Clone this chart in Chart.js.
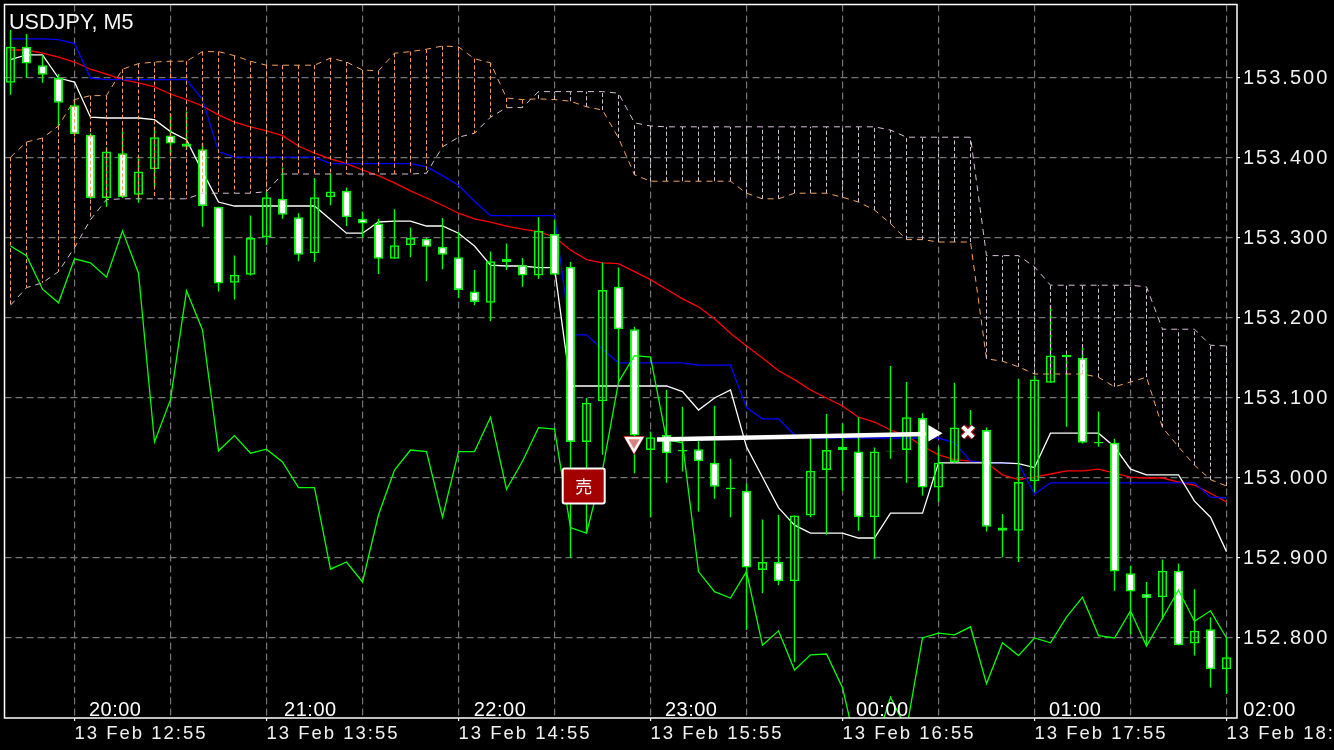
<!DOCTYPE html>
<html>
<head>
<meta charset="utf-8">
<title>USDJPY, M5</title>
<script src="https://cdn.jsdelivr.net/npm/chart.js@4/dist/chart.umd.min.js"></script>
<style>
    html, body { margin: 0; background: #000; overflow: hidden; }
    canvas { display: block; }
</style>
</head>
<body>
<canvas id="chart" width="1334" height="750"></canvas>
<script>
const opens = [
    153.494, 153.539, 153.516, 153.500, 153.466, 153.429, 153.350, 153.406, 153.354, 153.386,
    153.428, 153.418, 153.411, 153.339, 153.244, 153.254, 153.301, 153.349, 153.326, 153.281,
    153.351, 153.359, 153.324, 153.318, 153.274, 153.291, 153.299, 153.289, 153.276, 153.233,
    153.219, 153.274, 153.266, 153.253, 153.305, 153.264, 153.045, 153.096, 153.239, 153.186,
    153.035, 153.054, 153.035, 153.036, 153.019, 152.986, 152.984, 152.885, 152.895, 152.871,
    152.953, 153.010, 153.039, 153.033, 152.951, 153.033, 153.035, 153.075, 152.988, 153.020,
    153.061, 153.060, 152.938, 152.934, 152.996, 153.119, 153.154, 153.150, 153.045, 153.044,
    152.881, 152.855, 152.851, 152.884, 152.793, 152.811, 152.761
];
const highs = [
    153.560, 153.555, 153.529, 153.505, 153.473, 153.431, 153.413, 153.433, 153.399, 153.439,
    153.456, 153.458, 153.418, 153.339, 153.278, 153.328, 153.358, 153.388, 153.331, 153.375,
    153.381, 153.363, 153.333, 153.324, 153.336, 153.313, 153.300, 153.325, 153.308, 153.260,
    153.283, 153.293, 153.275, 153.326, 153.323, 153.270, 153.100, 153.269, 153.263, 153.189,
    153.058, 153.110, 153.089, 153.050, 153.090, 153.024, 152.993, 152.948, 152.954, 152.953,
    153.055, 153.080, 153.068, 153.076, 153.038, 153.140, 153.120, 153.081, 153.039, 153.119,
    153.085, 153.063, 152.955, 153.124, 153.128, 153.216, 153.154, 153.163, 153.083, 153.049,
    152.890, 152.870, 152.898, 152.893, 152.861, 152.826, 152.800
];
const lows = [
    153.479, 153.500, 153.494, 153.440, 153.428, 153.349, 153.339, 153.350, 153.344, 153.364,
    153.404, 153.410, 153.314, 153.233, 153.223, 153.253, 153.291, 153.324, 153.271, 153.270,
    153.341, 153.315, 153.300, 153.255, 153.274, 153.276, 153.246, 153.261, 153.225, 153.216,
    153.196, 153.260, 153.239, 153.249, 153.254, 152.900, 152.931, 153.029, 153.120, 153.006,
    152.951, 152.994, 153.008, 152.958, 152.974, 152.951, 152.810, 152.856, 152.866, 152.770,
    152.951, 152.929, 152.984, 152.934, 152.899, 153.024, 152.994, 152.978, 152.970, 153.019,
    153.058, 152.933, 152.901, 152.895, 152.983, 153.119, 153.064, 153.043, 153.039, 152.859,
    152.805, 152.789, 152.823, 152.791, 152.778, 152.738, 152.730
];
const closes = [
    153.539, 153.518, 153.504, 153.469, 153.430, 153.350, 153.408, 153.351, 153.383, 153.426,
    153.418, 153.414, 153.340, 153.243, 153.254, 153.300, 153.351, 153.329, 153.279, 153.351,
    153.358, 153.326, 153.318, 153.274, 153.291, 153.300, 153.289, 153.279, 153.235, 153.220,
    153.271, 153.270, 153.253, 153.309, 153.254, 153.045, 153.094, 153.235, 153.186, 153.053,
    153.051, 153.031, 153.033, 153.021, 152.989, 152.988, 152.888, 152.895, 152.871, 152.953,
    153.009, 153.035, 153.035, 152.951, 153.033, 153.034, 153.076, 152.988, 153.019, 153.063,
    153.064, 152.939, 152.934, 152.995, 153.123, 153.153, 153.151, 153.044, 153.043, 152.883,
    152.858, 152.850, 152.884, 152.791, 152.809, 152.761, 152.776
];

const tenkan = [
    153.523, 153.529, 153.529, 153.500, 153.495, 153.451, 153.450, 153.450, 153.450, 153.448,
    153.433, 153.423, 153.383, 153.345, 153.340, 153.340, 153.340, 153.340, 153.340, 153.340,
    153.323, 153.306, 153.306, 153.320, 153.321, 153.321, 153.315, 153.315, 153.306, 153.290,
    153.266, 153.265, 153.265, 153.263, 153.263, 153.115, 153.115, 153.115, 153.115, 153.115,
    153.115, 153.115, 153.108, 153.085, 153.100, 153.110, 153.039, 153.001, 152.963, 152.941,
    152.931, 152.931, 152.931, 152.925, 152.925, 152.956, 152.956, 152.956, 153.019, 153.019,
    153.019, 153.019, 153.019, 153.018, 153.013, 153.056, 153.056, 153.056, 153.056, 153.039,
    153.011, 153.004, 153.004, 153.004, 152.971, 152.951, 152.908
];
const kijun = [
    153.549, 153.549, 153.549, 153.548, 153.543, 153.500, 153.498, 153.498, 153.498, 153.498,
    153.498, 153.498, 153.473, 153.408, 153.401, 153.401, 153.401, 153.401, 153.401, 153.401,
    153.393, 153.393, 153.393, 153.393, 153.393, 153.393, 153.389, 153.378, 153.366, 153.346,
    153.328, 153.328, 153.328, 153.328, 153.328, 153.179, 153.179, 153.161, 153.144, 153.144,
    153.144, 153.144, 153.144, 153.141, 153.141, 153.141, 153.088, 153.074, 153.074, 153.054,
    153.050, 153.050, 153.050, 153.050, 153.050, 153.050, 153.050, 153.050, 153.050, 153.044,
    153.021, 153.019, 153.019, 153.018, 152.980, 152.994, 152.994, 152.994, 152.994, 152.994,
    152.994, 152.994, 152.994, 152.994, 152.994, 152.976, 152.975
];
const movingAverage = [
    153.535, 153.535, 153.531, 153.526, 153.520, 153.511, 153.505, 153.498, 153.494, 153.489,
    153.480, 153.473, 153.465, 153.454, 153.445, 153.439, 153.434, 153.428, 153.415, 153.406,
    153.399, 153.393, 153.385, 153.378, 153.369, 153.359, 153.350, 153.341, 153.331, 153.324,
    153.320, 153.315, 153.311, 153.308, 153.301, 153.285, 153.273, 153.269, 153.268, 153.258,
    153.248, 153.236, 153.224, 153.214, 153.199, 153.181, 153.165, 153.150, 153.134, 153.123,
    153.110, 153.100, 153.090, 153.076, 153.070, 153.060, 153.053, 153.040, 153.029, 153.023,
    153.021, 153.019, 153.004, 152.998, 153.001, 153.005, 153.009, 153.009, 153.011, 153.006,
    153.001, 153.000, 153.000, 152.995, 152.991, 152.981, 152.970
];
const chikou = [
    153.290, 153.278, 153.236, 153.219, 153.274, 153.269, 153.251, 153.309, 153.256, 153.045,
    153.098, 153.234, 153.185, 153.034, 153.053, 153.031, 153.036, 153.020, 152.988, 152.988,
    152.886, 152.895, 152.870, 152.954, 153.010, 153.035, 153.033, 152.951, 153.033, 153.033,
    153.076, 152.986, 153.021, 153.063, 153.061, 152.938, 152.931, 153.010, 153.120, 153.153,
    153.151, 153.048, 153.044, 152.883, 152.858, 152.850, 152.883, 152.791, 152.809, 152.760,
    152.779, 152.780, 152.738, 152.651, 152.663, 152.726, 152.686, 152.800, 152.806, 152.804,
    152.814, 152.743, 152.794, 152.778, 152.800, 152.794, 152.826, 152.851, 152.803, 152.800,
    152.834, 152.790, 152.825, 152.860, 152.821, 152.834, 152.800
];
const senkouA = [
    153.401, 153.420, 153.425, 153.440, 153.473, 153.478, 153.478, 153.511, 153.518, 153.520,
    153.521, 153.521, 153.533, 153.533, 153.528, 153.521, 153.516, 153.516, 153.516, 153.516,
    153.525, 153.520, 153.510, 153.509, 153.531, 153.533, 153.536, 153.540, 153.539, 153.524,
    153.519, 153.475, 153.473, 153.474, 153.473, 153.471, 153.464, 153.460, 153.425, 153.379,
    153.371, 153.371, 153.371, 153.371, 153.371, 153.371, 153.356, 153.349, 153.349, 153.356,
    153.356, 153.356, 153.351, 153.345, 153.335, 153.318, 153.298, 153.298, 153.295, 153.295,
    153.295, 153.149, 153.146, 153.139, 153.130, 153.130, 153.130, 153.130, 153.126, 153.114,
    153.120, 153.126, 153.063, 153.039, 153.016, 152.998, 152.990
];
const senkouB = [
    153.216, 153.238, 153.244, 153.258, 153.288, 153.323, 153.348, 153.349, 153.349, 153.349,
    153.349, 153.349, 153.356, 153.356, 153.356, 153.356, 153.358, 153.380, 153.380, 153.380,
    153.380, 153.380, 153.380, 153.380, 153.380, 153.380, 153.381, 153.414, 153.426, 153.431,
    153.451, 153.463, 153.463, 153.483, 153.483, 153.483, 153.483, 153.483, 153.481, 153.444,
    153.440, 153.439, 153.439, 153.439, 153.439, 153.439, 153.439, 153.439, 153.439, 153.439,
    153.439, 153.439, 153.439, 153.439, 153.439, 153.435, 153.426, 153.426, 153.426, 153.426,
    153.426, 153.278, 153.278, 153.278, 153.264, 153.241, 153.241, 153.241, 153.241, 153.241,
    153.241, 153.239, 153.186, 153.186, 153.186, 153.166, 153.165
];

const priceTicks = [153.5, 153.4, 153.3, 153.2, 153.1, 153.0, 152.9, 152.8];
const gridPositions = [4, 10, 16, 22, 28, 34, 40, 46, 52, 58, 64, 70, 76];
const datePositions = [4, 16, 28, 40, 52, 64, 76];
const dateLabels = ["13 Feb 12:55", "13 Feb 13:55", "13 Feb 14:55", "13 Feb 15:55", "13 Feb 16:55", "13 Feb 17:55", "13 Feb 18:55"];
const hourPositions = [4.9, 17.1, 28.95, 40.9, 52.85, 64.9, 77.05];
const hourLabels = ["20:00", "21:00", "22:00", "23:00", "00:00", "01:00", "02:00"];

const tradeLineX = [40.4, 57.2];
const tradeLineY = [153.048, 153.055];
const tradeHeadX = [57.66];
const tradeHeadY = [153.056];
const entryMarkX = [38.97, 38.97, 38.97];
const entryMarkY = [153.0445, 153.0445, 153.0445];
const exitMarkX = [59.84, 59.84];
const exitMarkY = [153.0575, 153.0575];
const sellLabelX = 35.825;
const sellLabelY = 152.990;
const sellLabel = "売";
const chartTitle = "USDJPY, M5";

const GREEN = "#00ff00";
const SANDY = "#f4a460";
const THISTLE = "#d8bfd8";
const GRID = "#757575";
const FONT = "'Liberation Sans', Arial, sans-serif";

function toPoints(values) {
    return values.map((value, index) => ({ x: index, y: value }));
}

function lineSet(values, color, order) {
    return {
        type: "line",
        data: toPoints(values),
        borderColor: color,
        borderWidth: 1.3,
        pointRadius: 0,
        tension: 0,
        order: order,
    };
}

function hatchPoints(keep) {
    const points = [];
    senkouA.forEach((value, index) => {
        if (keep(value, senkouB[index])) {
            points.push({ x: index, y: value }, { x: index, y: senkouB[index] }, { x: index, y: null });
        }
    });
    return points;
}

function hatchSet(keep, color) {
    return {
        type: "line",
        data: hatchPoints(keep),
        borderColor: color,
        borderWidth: 1,
        borderDash: [4, 2.5],
        pointRadius: 0,
        spanGaps: false,
        order: 4,
    };
}

function senkouSet(values, color) {
    const set = lineSet(values, color, 4);
    set.borderWidth = 1;
    set.borderDash = [6, 5];
    return set;
}

const overlayPlugin = {
    id: "overlay",
    beforeDraw(chart) {
        chart.ctx.letterSpacing = "2px";
    },
    afterDatasetsDraw(chart) {
        const ctx = chart.ctx;
        const x = chart.scales.x.getPixelForValue(sellLabelX);
        const y = chart.scales.y.getPixelForValue(sellLabelY);
        ctx.save();
        ctx.letterSpacing = "0px";
        ctx.beginPath();
        ctx.roundRect(x - 21, y - 17.5, 42, 35, 2);
        ctx.fillStyle = "#a50000";
        ctx.fill();
        ctx.lineWidth = 2;
        ctx.strokeStyle = "#ffffff";
        ctx.stroke();
        ctx.fillStyle = "#ffffff";
        ctx.font = "17px 'Noto Sans CJK JP'";
        ctx.textAlign = "center";
        ctx.textBaseline = "middle";
        ctx.fillText(sellLabel, x, y + 1);
        ctx.restore();
    },
    afterDraw(chart) {
        const ctx = chart.ctx;
        const area = chart.chartArea;
        ctx.save();
        ctx.strokeStyle = "#ffffff";
        ctx.lineWidth = 1.5;
        ctx.strokeRect(area.left, area.top, area.right - area.left, area.bottom - area.top);
        ctx.fillStyle = "#f6f6f6";
        ctx.textBaseline = "alphabetic";
        ctx.textAlign = "left";
        ctx.letterSpacing = "0px";
        ctx.font = "21.6px " + FONT;
        ctx.fillText(chartTitle, 9, 29);
        ctx.fillStyle = "#ffffff";
        ctx.letterSpacing = "0.5px";
        ctx.font = "20px " + FONT;
        hourLabels.forEach((label, index) => {
            ctx.fillText(label, chart.scales.x.getPixelForValue(hourPositions[index]), 716);
        });
        ctx.restore();
    },
};

new Chart(document.getElementById("chart"), {
    data: {
        datasets: [
            lineSet(tenkan, "#ffffff", 8),
            lineSet(kijun, "#0000ff", 8),
            lineSet(movingAverage, "#ff0000", 8),
            {
                type: "bar",
                data: lows.map((low, index) => ({ x: index, y: [low, highs[index]] })),
                backgroundColor: GREEN,
                barThickness: 1.4,
                inflateAmount: 0,
                grouped: false,
                order: 7,
            },
            {
                type: "bar",
                data: opens.map((open, index) => ({
                    x: index,
                    y: [Math.min(open, closes[index]), Math.max(open, closes[index])],
                })),
                backgroundColor: opens.map((open, index) => (closes[index] < open ? "#ffffff" : "transparent")),
                borderColor: GREEN,
                borderWidth: 1.5,
                borderSkipped: false,
                barThickness: 9,
                inflateAmount: 0,
                grouped: false,
                order: 6,
            },
            hatchSet((a, b) => a > b, SANDY),
            hatchSet((a, b) => a <= b, THISTLE),
            senkouSet(senkouA, SANDY),
            senkouSet(senkouB, THISTLE),
            lineSet(chikou, GREEN, 3),
            {
                type: "line",
                data: tradeLineX.map((x, index) => ({ x: x, y: tradeLineY[index] })),
                borderColor: "#ffffff",
                borderWidth: 4.5,
                pointRadius: 0,
                order: 2,
            },
            {
                type: "line",
                data: tradeHeadX.map((x, index) => ({ x: x, y: tradeHeadY[index] })),
                showLine: false,
                pointStyle: "triangle",
                pointRotation: 90,
                pointRadius: 9.5,
                pointBackgroundColor: "#ffffff",
                pointBorderWidth: 0,
                order: 2,
            },
            {
                type: "line",
                data: entryMarkX.map((x, index) => ({ x: x, y: entryMarkY[index] })),
                showLine: false,
                pointStyle: "triangle",
                pointRotation: 180,
                pointRadius: [12.7, 11.5, 6.5],
                pointBackgroundColor: ["#b00000", "#ffffff", "#d98080"],
                pointBorderWidth: 0,
                order: 1,
            },
            {
                type: "line",
                data: exitMarkX.map((x, index) => ({ x: x, y: exitMarkY[index] })),
                showLine: false,
                pointStyle: "crossRot",
                pointRadius: 7.5,
                pointBorderColor: ["#b00000", "#ffffff"],
                pointBorderWidth: [6.5, 4],
                order: 1,
            },
        ],
    },
    options: {
        responsive: false,
        animation: false,
        devicePixelRatio: 1,
        layout: { autoPadding: false, padding: { left: 4.5, top: 4.5, right: 0, bottom: 0 } },
        plugins: { legend: { display: false }, tooltip: { enabled: false } },
        scales: {
            x: {
                type: "linear",
                offset: false,
                min: -0.375,
                max: 76.656,
                afterBuildTicks: (scale) => {
                    scale.ticks = gridPositions.map((value) => ({ value: value }));
                },
                afterFit: (scale) => {
                    scale.height = 32;
                    scale.paddingLeft = 0;
                    scale.paddingRight = 0;
                },
                border: { display: false, dash: [7, 4] },
                grid: {
                    offset: false,
                    color: GRID,
                    lineWidth: 1.2,
                    tickLength: 3,
                    tickBorderDash: [],
                    tickColor: (ctx) => (ctx.tick && datePositions.includes(ctx.tick.value) ? "#ffffff" : "transparent"),
                },
                ticks: {
                    autoSkip: false,
                    maxRotation: 0,
                    align: "start",
                    padding: 2,
                    color: "#f2f2f2",
                    font: { family: FONT, size: 18.5 },
                    callback: (value) => {
                        const index = datePositions.indexOf(value);
                        return index >= 0 ? dateLabels[index] : "";
                    },
                },
            },
            y: {
                type: "linear",
                position: "right",
                min: 152.7,
                max: 153.5919,
                afterBuildTicks: (scale) => {
                    scale.ticks = priceTicks.map((value) => ({ value: value }));
                },
                afterFit: (scale) => {
                    scale.width = 97;
                    scale.paddingTop = 0;
                    scale.paddingBottom = 0;
                },
                border: { display: false, dash: [7, 4] },
                grid: {
                    color: GRID,
                    lineWidth: 1.2,
                    tickLength: 3,
                    tickBorderDash: [],
                    tickColor: "#ffffff",
                },
                ticks: {
                    padding: 3,
                    color: "#f2f2f2",
                    font: { family: FONT, size: 20 },
                    callback: (value) => value.toFixed(3),
                },
            },
        },
    },
    plugins: [overlayPlugin],
});
</script>
</body>
</html>
